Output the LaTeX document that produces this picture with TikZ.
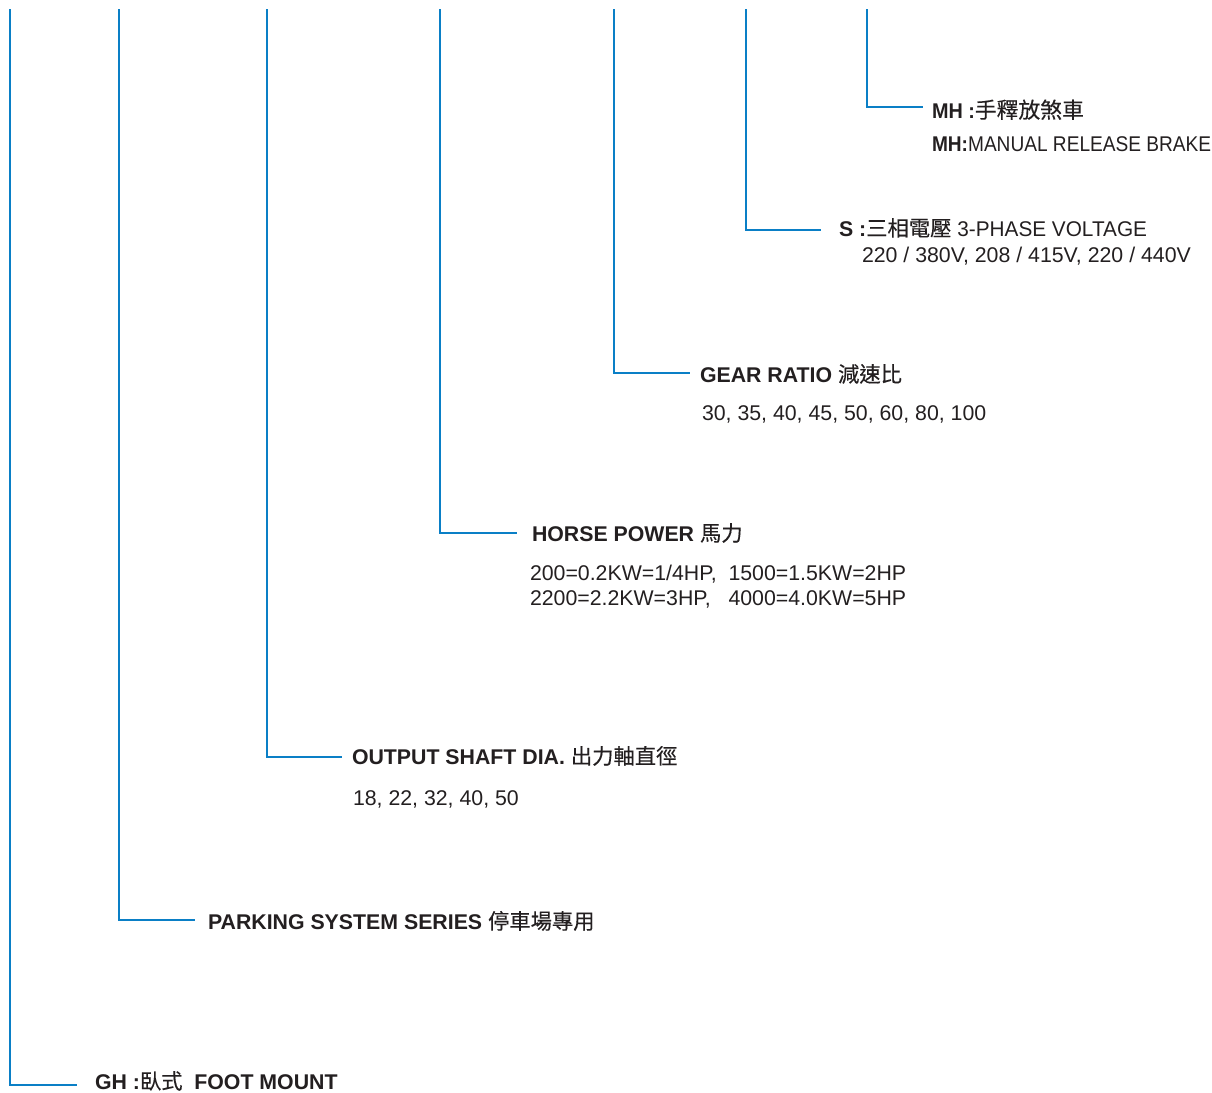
\documentclass[tikz,border=0pt]{standalone}
\usepackage{fontspec}
\setmainfont{Liberation Sans}
\newfontfamily\cjk[FakeBold=0.35]{Noto Sans CJK TC}
\definecolor{linkblue}{HTML}{0A7FC6}
\definecolor{inkgray}{HTML}{231F20}
\newcommand{\zh}[1]{{\cjk #1}}
\tikzset{
  x=1pt,y=-1pt,
  link/.style={draw=linkblue,line width=1.7pt,line join=miter},
  txt/.style={anchor=base west,inner sep=0pt,outer sep=0pt,text=inkgray,font=\fontsize{21.3}{25}\selectfont},
  ttl/.style={txt,font=\fontsize{21.3}{25}\selectfont\bfseries},
}
\begin{document}
\begin{tikzpicture}
\useasboundingbox (0,0) rectangle (1212,1092);
% top ends and horizontal ends
\coordinate (t1) at (10,9);   \coordinate (e1) at (77,1085);
\coordinate (t2) at (119,9);  \coordinate (e2) at (195,920);
\coordinate (t3) at (267,9);  \coordinate (e3) at (342,757);
\coordinate (t4) at (440,9);  \coordinate (e4) at (517,533);
\coordinate (t5) at (614,9);  \coordinate (e5) at (690,373);
\coordinate (t6) at (746,9);  \coordinate (e6) at (821,230);
\coordinate (t7) at (867,9);  \coordinate (e7) at (923,107);
\draw[link] (t1) |- (e1);
\draw[link] (t2) |- (e2);
\draw[link] (t3) |- (e3);
\draw[link] (t4) |- (e4);
\draw[link] (t5) |- (e5);
\draw[link] (t6) |- (e6);
\draw[link] (t7) |- (e7);
% labels
\node[ttl] (mh) at (932,118) {\scalebox{0.93}[1]{MH :}\zh{\mdseries\fontsize{21.8}{25}\selectfont 手釋放煞車}};
\node[txt] (mhb) at (932,151) {\scalebox{0.897}[1]{\textbf{MH:}MANUAL RELEASE BRAKE}};
\node[txt] (s) at (839,236) {\textbf{S :}\zh{三相電壓} \scalebox{0.975}[1]{3-PHASE VOLTAGE}};
\node[txt] (sv) at (862,262) {220 / 380V, 208 / 415V, 220 / 440V};
\node[ttl] (gr) at (700,382) {GEAR RATIO \zh{\mdseries 減速比}};
\node[txt] (grv) at (702,420) {30, 35, 40, 45, 50, 60, 80, 100};
\node[ttl] (hp) at (532,541) {HORSE POWER \zh{\mdseries 馬力}};
\node[txt] (hpa) at (530,580) {200=0.2KW=1/4HP,\ \ 1500=1.5KW=2HP};
\node[txt] (hpb) at (530,605) {2200=2.2KW=3HP,\ \ \ 4000=4.0KW=5HP};
\node[ttl] (os) at (352,764) {OUTPUT SHAFT DIA. \zh{\mdseries 出力軸直徑}};
\node[txt] (osv) at (353,805) {18, 22, 32, 40, 50};
\node[ttl] (pk) at (208,929) {PARKING SYSTEM SERIES \zh{\mdseries 停車場專用}};
\node[ttl] (gh) at (95,1089) {GH :\zh{\mdseries 臥式}\ \ FOOT MOUNT};
\end{tikzpicture}
\end{document}
